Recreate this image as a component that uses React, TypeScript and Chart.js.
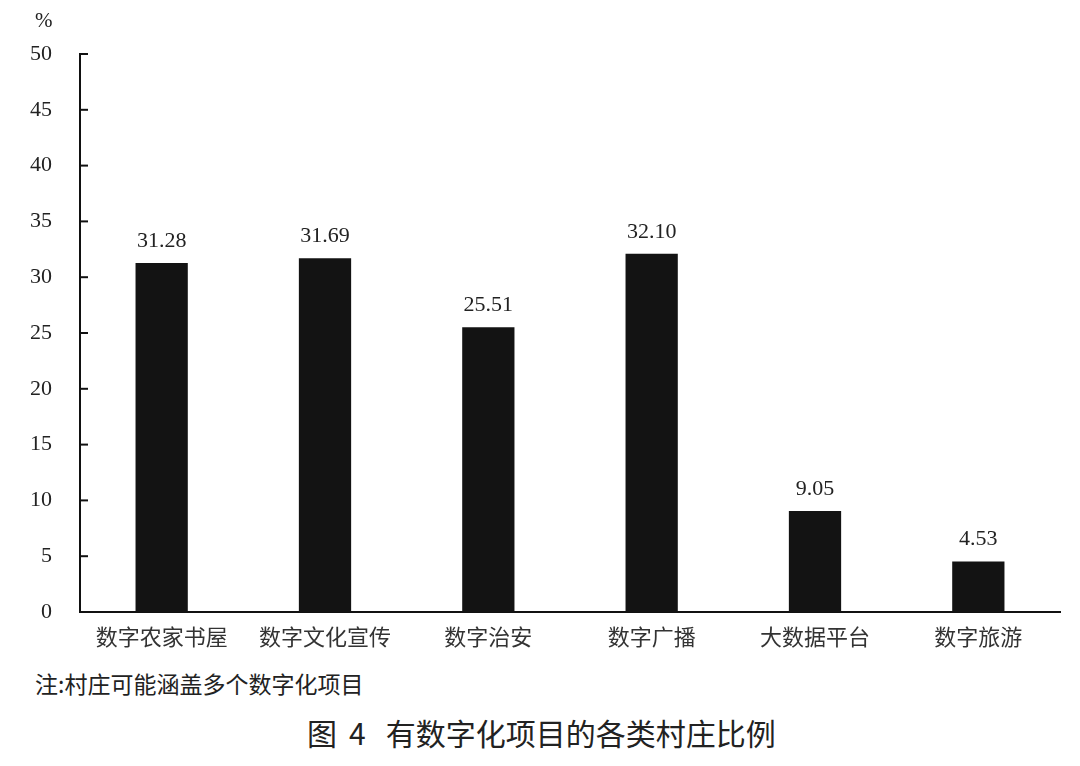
import { useEffect, useRef } from "react";
import { Chart, registerables, Plugin } from "chart.js";

Chart.register(...registerables);

const categories = ["数字农家书屋", "数字文化宣传", "数字治安", "数字广播", "大数据平台", "数字旅游"];
const shares = [31.28, 31.69, 25.51, 32.1, 9.05, 4.53];
const shareLabels = ["31.28", "31.69", "25.51", "32.10", "9.05", "4.53"];
const yTicks = [0, 5, 10, 15, 20, 25, 30, 35, 40, 45, 50];

const serif = '"Liberation Serif", "DejaVu Serif", serif';
const cjk = '"Noto Sans CJK SC", "Noto Sans", sans-serif';

// short inward ticks on the y axis + value labels over bars
const decorations: Plugin<"bar"> = {
  id: "decorations",
  afterDraw(chart) {
    const ctx = chart.ctx;
    const y = chart.scales.y;
    const left = chart.chartArea.left;
    ctx.save();
    ctx.strokeStyle = "#111";
    ctx.lineWidth = 2;
    yTicks.forEach((v) => {
      const py = y.getPixelForValue(v);
      ctx.beginPath();
      ctx.moveTo(left, py);
      ctx.lineTo(left + 8, py);
      ctx.stroke();
    });

    const meta = chart.getDatasetMeta(0);
    ctx.fillStyle = "#222";
    ctx.font = `22px ${serif}`;
    ctx.textAlign = "center";
    ctx.textBaseline = "bottom";
    meta.data.forEach((bar, i) => {
      ctx.fillText(shareLabels[i], bar.x, bar.y - 11);
    });
    ctx.restore();
  },
};

const BarChart = () => {
  const canvasRef = useRef<HTMLCanvasElement | null>(null);
  const chartInstance = useRef<Chart | null>(null);

  useEffect(() => {
    if (!canvasRef.current) return;
    const ctx = canvasRef.current.getContext("2d");
    if (!ctx) return;

    chartInstance.current = new Chart(ctx, {
      type: "bar",
      data: {
        labels: categories,
        datasets: [
          {
            data: shares,
            backgroundColor: "#131313",
            barPercentage: 0.32,
            categoryPercentage: 1,
          },
        ],
      },
      options: {
        animation: false,
        responsive: true,
        maintainAspectRatio: false,
        layout: { padding: { top: 54, right: 20, left: 0, bottom: 0 } },
        plugins: {
          legend: { display: false },
          tooltip: { enabled: false },
        },
        scales: {
          x: {
            grid: { display: false, drawTicks: false },
            border: { color: "#111", width: 2 },
            ticks: {
              color: "#333",
              padding: 11,
              font: { family: cjk, size: 22 },
            },
            afterFit: (scale) => {
              scale.height = 48;
            },
          },
          y: {
            min: 0,
            max: 50,
            grid: { display: false, drawTicks: false },
            border: { color: "#111", width: 2 },
            ticks: {
              stepSize: 5,
              color: "#222",
              padding: 28,
              font: { family: serif, size: 22 },
            },
            afterFit: (scale) => {
              scale.width = 80;
            },
          },
        },
      },
      plugins: [decorations],
    });

    return () => {
      if (chartInstance.current) {
        chartInstance.current.destroy();
        chartInstance.current = null;
      }
    };
  }, []);

  return (
    <div style={{ position: "absolute", left: 0, top: 0, width: 1080, height: 660 }}>
      <canvas ref={canvasRef} />
    </div>
  );
};

export default function App() {
  useEffect(() => {
    document.body.style.margin = "0";
  }, []);

  return (
    <div style={{ position: "relative", width: 1080, height: 766, background: "#fff", overflow: "hidden" }}>
      <BarChart />
      <div style={{ position: "absolute", left: 35, top: 8, fontFamily: serif, fontSize: 21, color: "#222" }}>%</div>
      <div style={{ position: "absolute", left: 35, top: 666, fontFamily: cjk, fontSize: 23, color: "#222" }}>
        注:村庄可能涵盖多个数字化项目
      </div>
      <div
        style={{
          position: "absolute",
          left: 307,
          top: 711,
          fontFamily: cjk,
          fontSize: 30,
          color: "#222",
          whiteSpace: "pre",
          lineHeight: "42px",
        }}
      >
        <span>图</span>
        <span style={{ marginLeft: 12 }}>4</span>
        <span style={{ marginLeft: 20 }}>有数字化项目的各类村庄比例</span>
      </div>
    </div>
  );
}
